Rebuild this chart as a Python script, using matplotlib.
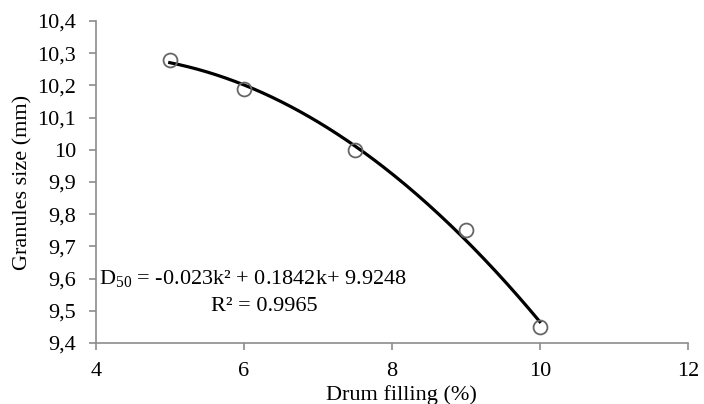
"""Granule size vs drum filling, with quadratic trendline."""
import numpy as np
import matplotlib

matplotlib.use("Agg")
import matplotlib.pyplot as plt

plt.rcParams["font.family"] = ["Liberation Serif", "DejaVu Serif"]
plt.rcParams["mathtext.fontset"] = "custom"
plt.rcParams["mathtext.rm"] = "Liberation Serif"
plt.rcParams["mathtext.it"] = "Liberation Serif:italic"

drum_filling = [5, 6, 7.5, 9, 10]
granule_size = [10.28, 10.19, 10.0, 9.75, 9.45]
x_ticks = [4, 6, 8, 10, 12]
y_ticks = [9.4, 9.5, 9.6, 9.7, 9.8, 9.9, 10.0, 10.1, 10.2, 10.3, 10.4]
y_labels = ["9,4", "9,5", "9,6", "9,7", "9,8", "9,9", "10", "10,1", "10,2", "10,3", "10,4"]

fig = plt.figure(figsize=(7.04, 4.04), dpi=100)
ax = fig.add_axes([0.136, 0.151, 0.841, 0.797])

coef = np.polyfit(drum_filling, granule_size, 2)
xs = np.linspace(min(drum_filling), max(drum_filling), 200)
ax.plot(xs, np.polyval(coef, xs), color="black", lw=2.3, zorder=2)
ax.plot(drum_filling, granule_size, "o", ms=10, mfc="none", mec="#666666",
        mew=1.3, zorder=3)

ax.set_xlim(4, 12)
ax.set_ylim(9.4, 10.4)
ax.set_xticks(x_ticks)
ax.set_yticks(y_ticks)
ax.set_yticklabels(y_labels)
for s in ["top", "right"]:
    ax.spines[s].set_visible(False)
for s in ["left", "bottom"]:
    ax.spines[s].set_color("#8c8c8c")
    ax.spines[s].set_linewidth(1.2)
ax.tick_params(colors="#8c8c8c", labelcolor="black", labelsize=16, length=5,
               width=1.2)
ax.tick_params(axis="x", pad=8.5)
ax.tick_params(axis="y", pad=9)

ax.set_xlabel("Drum filling (%)", fontsize=16)
ax.set_ylabel("Granules size (mm)", fontsize=16)
ax.xaxis.set_label_coords(0.517, -0.13)
ax.yaxis.set_label_coords(-0.107, 0.5)

ax.text(4.05, 9.6, r"D$_{50}$ = -0.023k² + 0.1842k+ 9.9248", fontsize=16,
        va="center", ha="left")
ax.text(6.28, 9.512, "R² = 0.9965", fontsize=16, va="center", ha="center")

fig.savefig("out.png", dpi=100)
